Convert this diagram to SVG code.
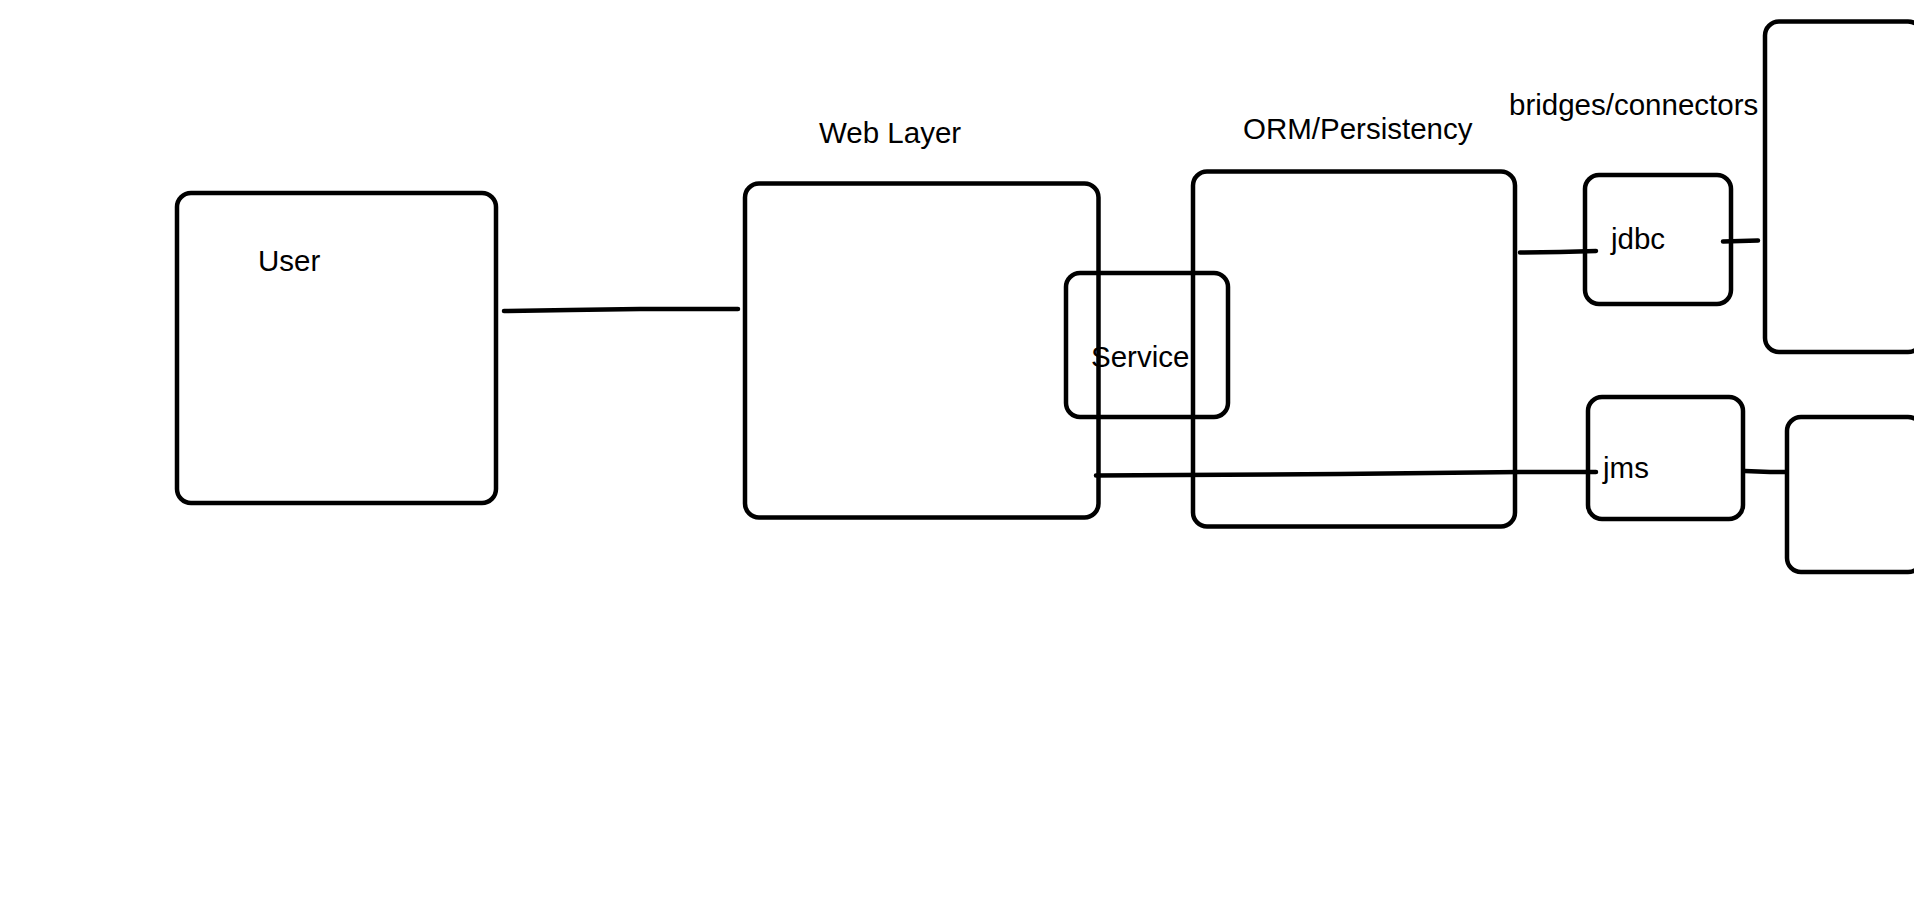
<svg xmlns="http://www.w3.org/2000/svg" width="1914" height="903" viewBox="0 0 1914 903">
  <style>
    .box { fill: none; stroke: #000; stroke-width: 4.5; }
    .link { fill: none; stroke: #000; stroke-width: 4.5; stroke-linecap: round; stroke-linejoin: round; }
    .label { font-family: "Liberation Sans", Arial, sans-serif; font-size: 29.5px; fill: #000; }
  </style>
  <rect width="1914" height="903" fill="#fff"/>

  <!-- connectors -->
  <g id="connectors">
    <path class="link" d="M504,311 L570,310 L640,309 L738,309"/>
    <path class="link" d="M1096,475.5 L1180,475 L1340,474 L1520,472 L1596,472"/>
    <path class="link" d="M1520,252.5 L1560,252 L1596,251"/>
    <path class="link" d="M1723,241.5 L1758,240.5"/>
    <path class="link" d="M1745,471 L1770,472 L1786,472"/>
  </g>

  <!-- free labels -->
  <g id="labels">
    <text class="label" x="819" y="143">Web Layer</text>
    <text class="label" x="1243" y="139">ORM/Persistency</text>
    <text class="label" x="1509" y="115">bridges/connectors</text>
  </g>

  <g id="user">
    <rect class="box" x="177" y="193" width="319" height="310" rx="14"/>
    <text class="label" x="258" y="271">User</text>
  </g>

  <g id="web-layer">
    <rect class="box" x="745" y="183.5" width="353.5" height="334" rx="14"/>
  </g>

  <g id="orm">
    <rect class="box" x="1193" y="171.5" width="322" height="355" rx="14"/>
  </g>

  <g id="service">
    <rect class="box" x="1066" y="273" width="162" height="144" rx="14"/>
    <text class="label" x="1091" y="366.5">Service</text>
  </g>

  <g id="jdbc">
    <rect class="box" x="1585" y="175" width="146" height="129" rx="14"/>
    <text class="label" x="1611" y="249">jdbc</text>
  </g>

  <g id="jms">
    <rect class="box" x="1588" y="397" width="155" height="122" rx="14"/>
    <text class="label" x="1603" y="478">jms</text>
  </g>

  <!-- the two right-hand boxes run past the right border -->
  <g id="database">
    <rect class="box" x="1765" y="21.5" width="157" height="330.5" rx="14"/>
  </g>

  <g id="broker">
    <rect class="box" x="1787" y="417" width="135" height="155" rx="14"/>
  </g>
</svg>
